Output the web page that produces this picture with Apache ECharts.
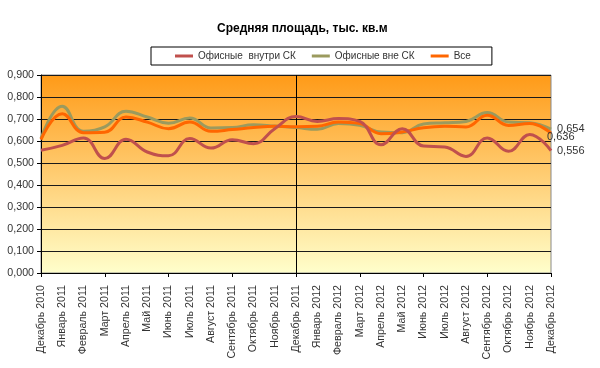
<!DOCTYPE html>
<html>
<head>
<meta charset="utf-8">
<script src="https://cdn.jsdelivr.net/npm/echarts@6/dist/echarts.min.js"></script>
<style>html,body{margin:0;padding:0;background:#fff;}#c{width:600px;height:368px;}</style>
</head>
<body>
<div id="c"></div>
<script>
var categories = ['Декабрь 2010','Январь 2011','Февраль 2011','Март 2011','Апрель 2011','Май 2011','Июнь 2011','Июль 2011','Август 2011','Сентябрь 2011','Октябрь 2011','Ноябрь 2011','Декабрь 2011','Январь 2012','Февраль 2012','Март 2012','Апрель 2012','Май 2012','Июнь 2012','Июль 2012','Август 2012','Сентябрь 2012','Октябрь 2012','Ноябрь 2012','Декабрь 2012'];
var insideSK = [0.558,0.580,0.614,0.520,0.608,0.550,0.533,0.611,0.568,0.606,0.588,0.656,0.711,0.689,0.702,0.689,0.583,0.656,0.577,0.573,0.530,0.614,0.553,0.630,0.556];
var outsideSK = [0.612,0.758,0.644,0.664,0.735,0.709,0.681,0.705,0.659,0.661,0.674,0.668,0.661,0.653,0.679,0.671,0.641,0.638,0.677,0.683,0.689,0.729,0.686,0.683,0.654];
var allSK = [0.606,0.724,0.638,0.640,0.709,0.686,0.656,0.686,0.644,0.652,0.661,0.667,0.665,0.667,0.686,0.679,0.633,0.641,0.660,0.667,0.664,0.717,0.671,0.679,0.636];
var seriesNames = ['Офисные  внутри СК','Офисные вне СК','Все'];
var yMin = 0, yMax = 0.9, yStep = 0.1;
var dividerCategory = 'Декабрь 2011';

function fmt(v){ return Number(v).toFixed(3).replace('.', ','); }
var font = 'Arial, "Liberation Sans", sans-serif';
var divIdx = categories.indexOf(dividerCategory);

function mk(name, data, color, z, off){
  return {
    name: name, type: 'line', data: data, smooth: 0.45, symbol: 'none', z: z,
    lineStyle: {color: color, width: 3}, itemStyle: {color: color},
    endLabel: {show: true, formatter: function(p){ return fmt(p.value); }, color: '#333', fontSize: 11, fontFamily: font, distance: 6, offset: off}
  };
}

var chart = echarts.init(document.getElementById('c'), null, {renderer: 'canvas'});
chart.setOption({
  animation: false,
  title: {text: 'Средняя площадь, тыс. кв.м', left: 212, top: 18, textStyle: {fontSize: 12, fontWeight: 'bold', color: '#000', fontFamily: font}},
  legend: {
    data: seriesNames, left: 151, top: 47, icon: 'rect', itemWidth: 18, itemHeight: 3, itemGap: 16,
    padding: [4, 21, 4, 24], borderColor: '#000', borderWidth: 1,
    textStyle: {fontSize: 10, color: '#333', fontFamily: font}
  },
  grid: {
    left: 41, right: 49, top: 75, bottom: 95, show: true, borderColor: '#8a8a8a', borderWidth: 1,
    backgroundColor: new echarts.graphic.LinearGradient(0, 0, 0, 1, [{offset: 0, color: '#FF9A17'}, {offset: 1, color: '#FFFFCC'}])
  },
  xAxis: {
    type: 'category', data: categories, boundaryGap: false,
    axisLine: {lineStyle: {color: '#000', width: 1}},
    axisTick: {interval: 2, length: 4, lineStyle: {color: '#000'}},
    axisLabel: {interval: 0, rotate: 90, fontSize: 10.67, color: '#333', fontFamily: font, margin: 12},
    splitLine: {show: true, interval: function(i){ return i === divIdx; }, lineStyle: {color: '#000', width: 1}}
  },
  yAxis: {
    type: 'value', min: yMin, max: yMax, interval: yStep,
    axisLine: {show: true, lineStyle: {color: '#000', width: 1}},
    axisTick: {show: true, length: 4, lineStyle: {color: '#000'}},
    axisLabel: {formatter: fmt, fontSize: 10.67, color: '#333', fontFamily: font, margin: 7},
    splitLine: {show: true, lineStyle: {color: '#1a1a1a', width: 1}}
  },
  series: [
    mk(seriesNames[0], insideSK, '#C0504D', 4, [0, 0]),
    mk(seriesNames[1], outsideSK, '#9B9A5E', 2, [0, 0]),
    mk(seriesNames[2], allSK, '#FF6600', 3, [-10, 4])
  ]
});
</script>
</body>
</html>
